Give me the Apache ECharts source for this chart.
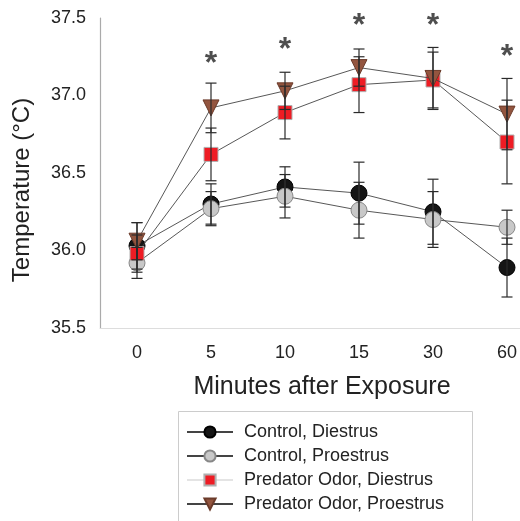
<!DOCTYPE html>
<html><head><meta charset="utf-8">
<script src="https://cdn.jsdelivr.net/npm/echarts@6/dist/echarts.min.js"></script>
<style>html,body{margin:0;padding:0;background:#fff}#c{width:520px;height:521px}</style>
</head><body><div id="c"></div>
<script>
const categories = ['0','5','10','15','30','60'];
const seriesNames = ['Control, Diestrus','Control, Proestrus','Predator Odor, Diestrus','Predator Odor, Proestrus'];
const controlDiestrus = [36.03, 36.30, 36.41, 36.37, 36.25, 35.89];
const controlDiestrusErr = [0.15, 0.13, 0.13, 0.20, 0.21, 0.19];
const controlProestrus = [35.92, 36.27, 36.35, 36.26, 36.20, 36.15];
const controlProestrusErr = [0.10, 0.11, 0.14, 0.18, 0.18, 0.11];
const predatorDiestrus = [35.98, 36.62, 36.89, 37.07, 37.10, 36.70];
const predatorDiestrusErr = [0.12, 0.17, 0.17, 0.18, 0.18, 0.27];
const predatorProestrus = [36.06, 36.92, 37.03, 37.18, 37.11, 36.88];
const predatorProestrusErr = [0.12, 0.16, 0.12, 0.12, 0.20, 0.23];
const asteriskY = [null, 37.25, 37.34, 37.49, 37.49, 37.29];
const yTicks = [35.5, 36.0, 36.5, 37.0, 37.5];

const values = [controlDiestrus, controlProestrus, predatorDiestrus, predatorProestrus];
const errs = [controlDiestrusErr, controlProestrusErr, predatorDiestrusErr, predatorProestrusErr];
const styles = [
  {symbol:'circle', size:16, color:'#151515', border:'#000'},
  {symbol:'circle', size:16, color:'#c8c8c8', border:'#888'},
  {symbol:'rect', size:14, color:'#ee1c24', border:'#b0b0b0'},
  {symbol:'triangle', size:16, color:'#93553f', border:'#6b3b2a', rotate:180}
];

const FONT = 'Liberation Sans, Arial, sans-serif';
const series = [];
values.forEach((vals, i) => {
  const st = styles[i];
  series.push({
    name: seriesNames[i], type:'line', data: vals,
    symbol: st.symbol, symbolSize: st.size, symbolRotate: st.rotate || 0,
    lineStyle:{color:'#444', width:0.9},
    itemStyle:{color: st.color, borderColor: st.border, borderWidth:1},
    z: 3 + i
  });
});
values.forEach((vals, i) => {
  series.push({
    type:'custom', name: 'err'+i, z: 10,
    data: vals.map((v, k) => [k, v - errs[i][k], v + errs[i][k]]),
    renderItem: function(params, api){
      const lo = api.coord([api.value(0), api.value(1)]);
      const hi = api.coord([api.value(0), api.value(2)]);
      const w = 5.5;
      const s = {stroke:'#2a2a2a', lineWidth:1.2};
      return {type:'group', children:[
        {type:'line', shape:{x1:lo[0], y1:lo[1], x2:hi[0], y2:hi[1]}, style:s},
        {type:'line', shape:{x1:lo[0]-w, y1:lo[1], x2:lo[0]+w, y2:lo[1]}, style:s},
        {type:'line', shape:{x1:hi[0]-w, y1:hi[1], x2:hi[0]+w, y2:hi[1]}, style:s}
      ]};
    },
    silent:true
  });
});
series.push({
  type:'scatter', name:'sig', data: asteriskY, symbolSize:0, z:20,
  label:{show:true, position:'inside', formatter:'*', fontSize:32, fontWeight:'bold', color:'#222', fontFamily:FONT, offset:[0,7]}
});

const chart = echarts.init(document.getElementById('c'));
chart.setOption({
  animation:false,
  backgroundColor:'#fff',
  grid:{left:100, width:444, top:18, bottom:193, outerBoundsMode:'none', containLabel:false},
  xAxis:{
    type:'category', data: categories, boundaryGap:true,
    name:'Minutes after Exposure', nameLocation:'middle', nameGap:47,
    nameTextStyle:{fontSize:25, color:'#222', fontFamily:FONT},
    axisLine:{lineStyle:{color:'#ddd'}},
    axisTick:{alignWithLabel:true, length:5, lineStyle:{color:'#999'}},
    axisLabel:{fontSize:18, color:'#222', margin:16, fontFamily:FONT}
  },
  yAxis:{
    type:'value', min:35.5, max:37.5, interval:0.5,
    name:'Temperature (°C)', nameLocation:'middle', nameGap:66,
    nameTextStyle:{fontSize:24, color:'#222', fontFamily:FONT, padding:[0,0,0,-34]},
    axisLine:{show:true, lineStyle:{color:'#aaa', width:1.2}},
    axisTick:{show:false},
    splitLine:{show:false},
    axisLabel:{fontSize:18, color:'#222', margin:14, fontFamily:FONT,
      formatter: v => yTicks.includes(+v.toFixed(1)) ? v.toFixed(1) : ''}
  },
  legend:{
    data: seriesNames.map((n, i) => i === 2 ? {name:n, lineStyle:{color:'#e4e4e4'}} : {name:n}),
    orient:'vertical', left:186, top:423,
    itemWidth:46, itemHeight:14, itemGap:6,
    textStyle:{fontSize:18, lineHeight:17, color:'#222', fontFamily:FONT, padding:[0,0,0,6]},
    padding:0
  },
  graphic:[{type:'rect', shape:{x:178.5, y:411.5, width:294, height:115}, style:{fill:'none', stroke:'#ccc', lineWidth:1}, z:-1}],
  series: series
});
</script></body></html>
